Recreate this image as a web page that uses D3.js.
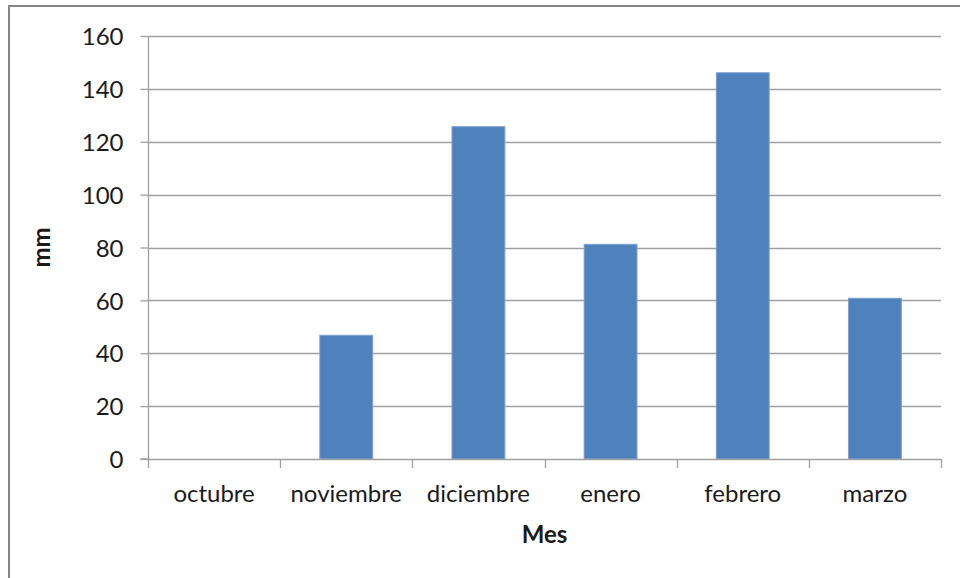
<!DOCTYPE html>
<html>
<head>
<meta charset="utf-8">
<script src="https://cdn.jsdelivr.net/npm/d3@7"></script>
<style>
  html, body { margin: 0; padding: 0; background: #fff; }
  svg { display: block; }
  text { font-family: Lato, "Open Sans", sans-serif; fill: #1a1a1a; }
</style>
</head>
<body>
<svg id="chart" width="960" height="578"></svg>
<script>
const categories = ["octubre", "noviembre", "diciembre", "enero", "febrero", "marzo"];
const values = [0, 46.8, 125.7, 81.2, 146.1, 60.8];
const yTicks = [0, 20, 40, 60, 80, 100, 120, 140, 160];
const xTitle = "Mes";
const yTitle = "mm";

const FS = "24px";
const svg = d3.select("#chart");
const plot = { left: 148, right: 941, top: 36, bottom: 459 };

// outer chart border
svg.append("rect")
  .attr("x", 9).attr("y", 6)
  .attr("width", 980).attr("height", 600)
  .attr("fill", "#fff")
  .attr("stroke", "#868686").attr("stroke-width", 2);

const x = d3.scaleBand().domain(categories).range([plot.left, plot.right]).paddingInner(0).paddingOuter(0);
const y = d3.scaleLinear().domain([0, 160]).range([plot.bottom, plot.top]);

// gridlines
svg.append("g").selectAll("line").data(yTicks.filter(d => d > 0)).join("line")
  .attr("x1", plot.left).attr("x2", plot.right)
  .attr("y1", d => Math.round(y(d)) + 0.5).attr("y2", d => Math.round(y(d)) + 0.5)
  .attr("stroke", "#a0a0a0").attr("stroke-width", 1.3);

// bars
const barW = x.bandwidth() / 2.5;
svg.append("g").selectAll("rect").data(categories).join("rect")
  .attr("x", (d) => x(d) + (x.bandwidth() - barW) / 2)
  .attr("width", barW)
  .attr("y", (d, i) => y(values[i]))
  .attr("height", (d, i) => y(0) - y(values[i]))
  .attr("fill", "#4f81bd")
  .attr("stroke", "#7da2d0").attr("stroke-width", 1)
  .style("display", (d, i) => values[i] > 0 ? null : "none");

// y axis
const yAxis = d3.axisLeft(y).tickValues(yTicks).tickSize(8).tickPadding(17).tickFormat(d3.format("d"));
const gy = svg.append("g").attr("transform", `translate(${plot.left + 0.5},0)`).call(yAxis);
gy.select(".domain").attr("stroke", "#a0a0a0").attr("stroke-width", 1.3).attr("d", `M-8,${y(0)}H0V${plot.top}`);
gy.selectAll(".tick line").attr("stroke", "#a0a0a0").attr("stroke-width", 1.3);
gy.selectAll(".tick text").style("font-size", FS).style("font-family", "Lato, sans-serif").attr("fill", "#1a1a1a").attr("dy", "0.36em");

// x axis
const gx = svg.append("g").attr("transform", `translate(0,${plot.bottom + 0.5})`).call(
  d3.axisBottom(x).tickSize(0).tickPadding(25)
);
gx.select(".domain").attr("stroke", "#a0a0a0").attr("stroke-width", 1.3).attr("d", `M${plot.left},0H${plot.right}`);
gx.selectAll(".tick text").style("font-size", FS).style("font-family", "Lato, sans-serif").attr("fill", "#1a1a1a");
// category boundary ticks
const bounds = categories.map(c => x(c)).concat([plot.right]);
svg.append("g").selectAll("line").data(bounds).join("line")
  .attr("x1", d => Math.round(d) + 0.5).attr("x2", d => Math.round(d) + 0.5)
  .attr("y1", plot.bottom).attr("y2", plot.bottom + 9)
  .attr("stroke", "#a0a0a0").attr("stroke-width", 1.3);

// axis titles
svg.append("text")
  .attr("x", (plot.left + plot.right) / 2).attr("y", 543)
  .attr("text-anchor", "middle")
  .style("font-size", FS).style("font-weight", "bold")
  .text(xTitle);

svg.append("text")
  .attr("transform", `translate(50,${(plot.top + plot.bottom) / 2}) rotate(-90)`)
  .attr("text-anchor", "middle")
  .style("font-size", FS).style("font-weight", "bold")
  .text(yTitle);
</script>
</body>
</html>
